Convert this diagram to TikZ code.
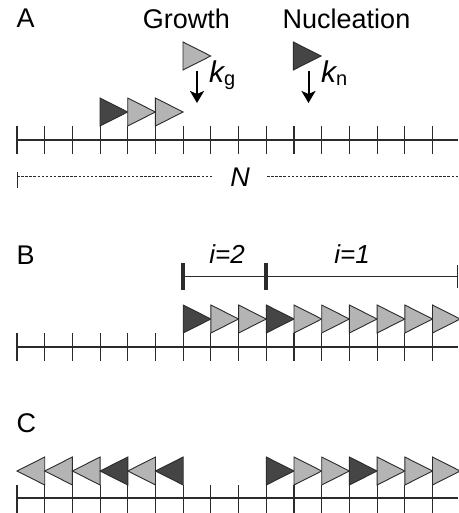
\documentclass[tikz,border=0pt]{standalone}
\usepackage{fontspec}
\setmainfont{Liberation Sans}
\usetikzlibrary{arrows.meta}
\definecolor{dark}{HTML}{454545}
\definecolor{light}{HTML}{B4B4B4}
\definecolor{edge}{HTML}{2B2B2B}

\begin{document}
\begin{tikzpicture}[
  x=1pt,y=-1pt,
  font=\fontsize{27}{30}\selectfont,
  axis/.style={line width=1.3pt,draw=edge},
  tick/.style={line width=1.1pt,draw=edge},
  dk/.style={draw=edge,line width=0.9pt,fill=dark},
  lt/.style={draw=edge,line width=0.9pt,fill=light},
  fall/.style={-{Stealth[length=12pt,width=14pt,inset=3pt]},line width=2pt,draw=black},
  lab/.style={anchor=base west,inner sep=0pt},
  head/.style={anchor=base,inner sep=0pt},
  rate/.style={anchor=base west,inner sep=0pt},
  ital/.style={anchor=base,font=\fontsize{26}{30}\selectfont\itshape,inner sep=0pt},
  dashln/.style={draw=edge,line width=0.6pt,dash pattern=on 2.5pt off 1.6pt},
  bar/.style={line width=3.5pt,draw=edge},
]
\useasboundingbox (0,0) rectangle (458,513);

% ---------------------------------------------------------------- panel A
\node[lab] (labA) at (16.5,28) {A};
\node[head] (grow) at (186.5,29) {Growth};
\node[head] (nucl) at (346.5,29) {Nucleation};

\draw[axis] (17,140) -- (458,140);
\foreach \i in {0,...,15} \draw[tick] ({17+27.7*\i},126) -- ++(0,28);

% filament already on the lattice
\foreach \x/\c in {100/dk,127.7/lt,155.4/lt}
  \draw[\c] (\x,126) -- ++(0,-28) -- ++(27.7,14) -- cycle;

% incoming subunits
\draw[lt] (183,70) -- ++(0,-28) -- ++(27.7,14) -- cycle;
\draw[dk] (293.3,70) -- ++(0,-28) -- ++(27.7,14) -- cycle;

\coordinate (gtop) at (197,71);
\coordinate (gbot) at (197,103);
\coordinate (ntop) at (308.5,71);
\coordinate (nbot) at (308.5,103);
\draw[fall] (gtop) -- (gbot);
\draw[fall] (ntop) -- (nbot);

\node[rate] (kg) at (209,83)
  {{\fontsize{30}{32}\selectfont\itshape k}{\fontsize{20}{22}\selectfont\raisebox{-3pt}{g}}};
\node[rate] (kn) at (321,83)
  {{\fontsize{30}{32}\selectfont\itshape k}{\fontsize{20}{22}\selectfont\raisebox{-3pt}{n}}};

% lattice length
\node[head,font=\fontsize{27}{30}\selectfont\itshape] (len) at (240,186) {N};
\coordinate (lenL) at (17,176);
\coordinate (lenR) at (458,176);
\draw[line width=0.9pt,draw=edge] (17,172) -- (17,188);
\draw[dashln] (lenL) -- (212,176);
\draw[dashln] (267,176) -- (lenR);

% ---------------------------------------------------------------- panel B
\node[lab] (labB) at (16.5,264) {B};
\node[ital] (two) at (227,263) {i=2};
\node[ital] (one) at (352,263) {i=1};

\coordinate (bL) at (183,276);
\coordinate (bR) at (457.3,276);
\draw[line width=0.9pt,draw=edge] (bL) -- (bR);
\draw[bar] (183,263) -- (183,290);
\draw[bar] (266,263) -- (266,290);
\draw[line width=0.9pt,draw=edge] (457.3,265) -- (457.3,288);

\draw[axis] (17,347) -- (458,347);
\foreach \i in {0,...,15} \draw[tick] ({17+27.7*\i},333) -- ++(0,28);

\foreach \i/\c in {6/dk,7/lt,8/lt,9/dk,10/lt,11/lt,12/lt,13/lt,14/lt,15/lt}
  \draw[\c] ({17+27.7*\i},333) -- ++(0,-28) -- ++(27.7,14) -- cycle;

% ---------------------------------------------------------------- panel C
\node[lab] (labC) at (16.5,432) {C};

\draw[axis] (17,498) -- (458,498);
\foreach \i in {0,...,15} \draw[tick] ({17+27.7*\i},485) -- ++(0,28);

% minus-end pointing filament
\foreach \i/\c in {1/lt,2/lt,3/lt,4/dk,5/lt,6/dk}
  \draw[\c] ({17+27.7*\i},485) -- ++(0,-28) -- ++(-27.7,14) -- cycle;
% plus-end pointing filament
\foreach \i/\c in {9/dk,10/lt,11/lt,12/dk,13/lt,14/lt,15/lt}
  \draw[\c] ({17+27.7*\i},485) -- ++(0,-28) -- ++(27.7,14) -- cycle;

\end{tikzpicture}
\end{document}
